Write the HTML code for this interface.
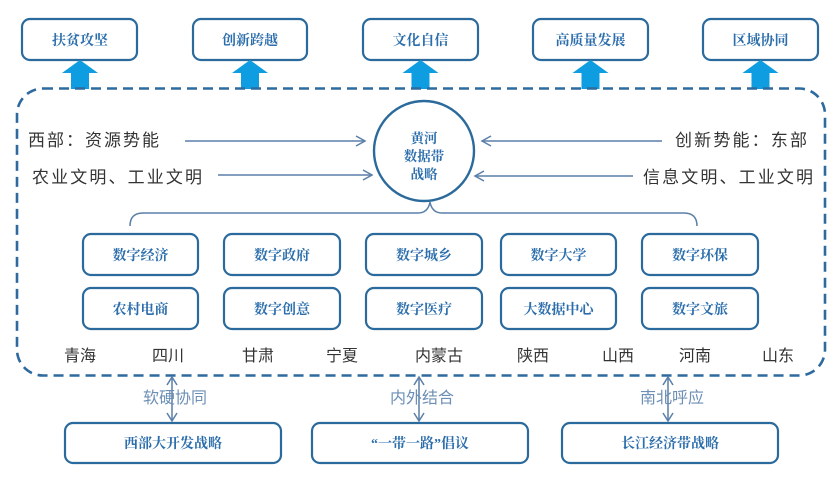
<!DOCTYPE html>
<html><head><meta charset="utf-8"><style>
html,body{margin:0;padding:0;background:#fff;}
svg{display:block;}
.bx{fill:#fff;stroke:#2b6a9c;stroke-width:2.2;}
.bt{font-family:"Liberation Serif","Noto Serif CJK SC",serif;font-weight:700;font-size:14px;fill:#2c6eac;text-anchor:middle;}
.st{font-family:"Liberation Sans","Noto Sans CJK SC",sans-serif;font-size:17px;fill:#333;}
.pv{font-family:"Liberation Sans","Noto Sans CJK SC",sans-serif;font-size:16px;fill:#333;text-anchor:middle;}
.lb{font-family:"Liberation Sans","Noto Sans CJK SC",sans-serif;font-size:16px;fill:#6d8fb6;text-anchor:middle;}
.ln{stroke:#5a7fa8;stroke-width:1.5;fill:none;}
</style></head><body>
<svg width="839" height="478" viewBox="0 0 839 478" xmlns="http://www.w3.org/2000/svg">
<!-- top boxes -->
<g>
<rect class="bx" x="22" y="19" width="115" height="41" rx="8"/>
<rect class="bx" x="193" y="19" width="114" height="41" rx="8"/>
<rect class="bx" x="363" y="19" width="115" height="41" rx="8"/>
<rect class="bx" x="533" y="19" width="115" height="41" rx="8"/>
<rect class="bx" x="703" y="19" width="115" height="41" rx="8"/>
<text class="bt" x="80" y="45">扶贫攻坚</text>
<text class="bt" x="250" y="45">创新跨越</text>
<text class="bt" x="420.5" y="45">文化自信</text>
<text class="bt" x="590.5" y="45">高质量发展</text>
<text class="bt" x="760.5" y="45">区域协同</text>
</g>
<!-- up arrows -->
<g fill="#0d9de0">
<polygon points="80,60 98,73 89,73 89,89 71,89 71,73 62,73"/>
<polygon points="250,60 268,73 259,73 259,89 241,89 241,73 232,73"/>
<polygon points="420.5,60 438.5,73 429.5,73 429.5,89 411.5,89 411.5,73 402.5,73"/>
<polygon points="590.5,60 608.5,73 599.5,73 599.5,89 581.5,89 581.5,73 572.5,73"/>
<polygon points="760.5,60 778.5,73 769.5,73 769.5,89 751.5,89 751.5,73 742.5,73"/>
</g>
<!-- dashed frame -->
<rect x="17" y="88.5" width="808" height="287" rx="26" fill="none" stroke="#2e6a9e" stroke-width="2.6" stroke-dasharray="10 6"/>
<!-- circle -->
<circle cx="424" cy="151" r="50" fill="#fff" stroke="#2b6a9c" stroke-width="2.4"/>
<g class="bt" style="font-size:13.5px">
<text x="424" y="143">黄河</text>
<text x="424" y="161">数据带</text>
<text x="424" y="179">战略</text>
</g>
<!-- side texts -->
<text class="st" x="28" y="146" textLength="131" lengthAdjust="spacing">西部：资源势能</text>
<text class="st" x="32" y="183" textLength="170" lengthAdjust="spacing">农业文明、工业文明</text>
<text class="st" x="675" y="146" textLength="132" lengthAdjust="spacing">创新势能：东部</text>
<text class="st" x="643" y="183" textLength="170" lengthAdjust="spacing">信息文明、工业文明</text>
<!-- horizontal arrows -->
<g class="ln">
<line x1="185" y1="141" x2="365" y2="141"/><polyline points="356,136 365,141 356,146"/>
<line x1="218" y1="175" x2="372" y2="175"/><polyline points="363,170 372,175 363,180"/>
<line x1="662" y1="141" x2="482" y2="141"/><polyline points="491,136 482,141 491,146"/>
<line x1="633" y1="176" x2="475" y2="176"/><polyline points="484,171 475,176 484,181"/>
</g>
<!-- brace -->
<path class="ln" d="M130,226 Q130,213 143,213 L418,213 Q428,213 430,202 Q432,213 442,213 L684,213 Q697,213 697,226"/>
<!-- middle boxes -->
<g>
<rect class="bx" x="83" y="234" width="115" height="41" rx="8"/>
<rect class="bx" x="224" y="234" width="116" height="41" rx="8"/>
<rect class="bx" x="366" y="234" width="116" height="41" rx="8"/>
<rect class="bx" x="501" y="234" width="115" height="41" rx="8"/>
<rect class="bx" x="642" y="234" width="116" height="41" rx="8"/>
<rect class="bx" x="83" y="288" width="115" height="41" rx="8"/>
<rect class="bx" x="224" y="288" width="116" height="41" rx="8"/>
<rect class="bx" x="366" y="288" width="116" height="41" rx="8"/>
<rect class="bx" x="501" y="288" width="115" height="41" rx="8"/>
<rect class="bx" x="642" y="288" width="116" height="41" rx="8"/>
<text class="bt" x="140.5" y="260">数字经济</text>
<text class="bt" x="282" y="260">数字政府</text>
<text class="bt" x="424" y="260">数字城乡</text>
<text class="bt" x="558.5" y="260">数字大学</text>
<text class="bt" x="700" y="260">数字环保</text>
<text class="bt" x="140.5" y="314">农村电商</text>
<text class="bt" x="282" y="314">数字创意</text>
<text class="bt" x="424" y="314">数字医疗</text>
<text class="bt" x="558.5" y="314">大数据中心</text>
<text class="bt" x="700" y="314">数字文旅</text>
</g>
<!-- provinces -->
<g class="pv">
<text x="80" y="361">青海</text>
<text x="168" y="361">四川</text>
<text x="258" y="361">甘肃</text>
<text x="342" y="361">宁夏</text>
<text x="439" y="361">内蒙古</text>
<text x="533" y="361">陕西</text>
<text x="618" y="361">山西</text>
<text x="695" y="361">河南</text>
<text x="778" y="361">山东</text>
</g>
<!-- bottom double arrows -->
<g class="ln">
<line x1="172" y1="377" x2="172" y2="421"/><polyline points="167,385 172,377 177,385"/><polyline points="167,413 172,421 177,413"/>
<line x1="419" y1="377" x2="419" y2="421"/><polyline points="414,385 419,377 424,385"/><polyline points="414,413 419,421 424,413"/>
<line x1="668" y1="377" x2="668" y2="421"/><polyline points="663,385 668,377 673,385"/><polyline points="663,413 668,421 673,413"/>
</g>
<g class="lb">
<text x="175" y="403">软硬协同</text>
<text x="422" y="403">内外结合</text>
<text x="672" y="403">南北呼应</text>
</g>
<!-- bottom boxes -->
<g>
<rect class="bx" x="65" y="423" width="216" height="40" rx="8"/>
<rect class="bx" x="312" y="423" width="216" height="40" rx="8"/>
<rect class="bx" x="562" y="423" width="216" height="40" rx="8"/>
<text class="bt" x="173" y="448">西部大开发战略</text>
<text class="bt" x="420" y="448">“一带一路”倡议</text>
<text class="bt" x="670" y="448">长江经济带战略</text>
</g>
</svg>
</body></html>
